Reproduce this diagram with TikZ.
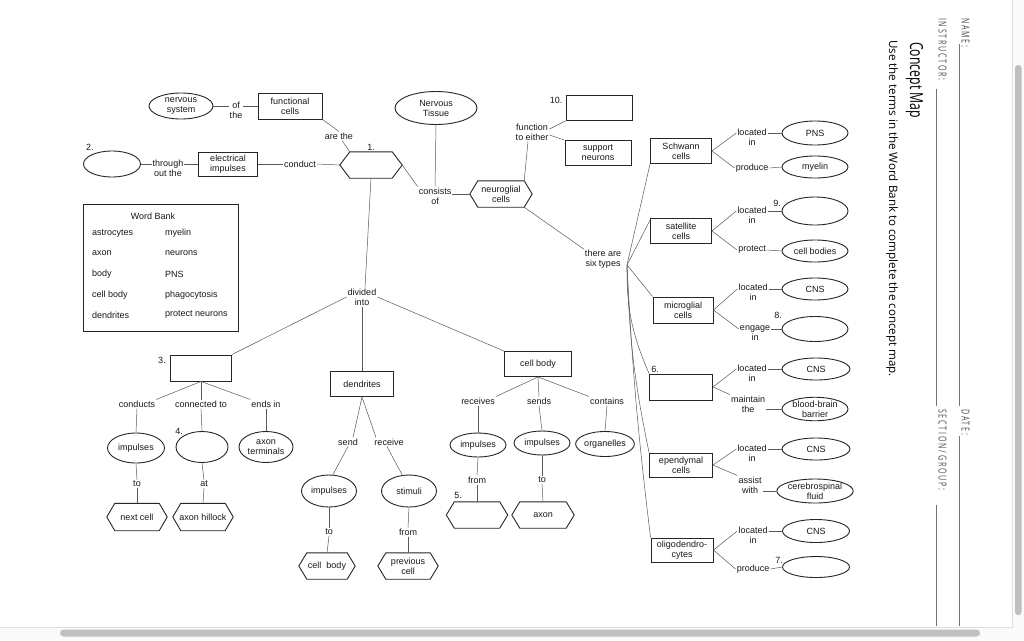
\documentclass[tikz,border=0pt]{standalone}
\usepackage{fontspec}
\setmainfont{Liberation Sans}
\newfontfamily\opensans{Open Sans}
\newfontfamily\condfont[FakeStretch=0.65,LetterSpace=16]{Open Sans}
\newfontfamily\titlefont[FakeStretch=0.68]{Open Sans}
\usetikzlibrary{shapes.geometric,calc}
\tikzset{
  every node/.style={font=\fontsize{9}{10}\selectfont, text=black!90},
  sz/.style 2 args={minimum width=#1pt, minimum height=#2pt},
  lbl/.style={inner sep=1pt, align=center},
  bx/.style={draw=black!85, line width=0.9pt, rectangle, inner sep=0pt, align=center},
  el/.style={draw=black!85, line width=0.9pt, ellipse, inner sep=0pt, align=center},
  hx/.style={rectangle, inner sep=0pt, align=center},
  cn/.style={draw=black!65, line width=0.5pt},
  hexline/.style={draw=black!85, line width=0.9pt, line join=miter},
  num/.style={inner sep=0pt},
  wbitem/.style={inner sep=0pt, anchor=west},
  formtxt/.style={rotate=-90, anchor=base west, inner sep=0pt, text=black!70, font=\condfont\fontsize{11}{11}\selectfont},
  formline/.style={draw=black!55, line width=0.8pt},
}
\newcommand\hexdraw[2]{\draw[hexline] (#1.west) -- ([xshift=#2pt]#1.north west) -- ([xshift=-#2pt]#1.north east) -- (#1.east) -- ([xshift=-#2pt]#1.south east) -- ([xshift=#2pt]#1.south west) -- cycle;}
\begin{document}
\begin{tikzpicture}[x=1pt,y=-1pt]
\fill[white] (0,0) rectangle (1024,640);
\useasboundingbox (0,0) rectangle (1024,640);

% ---------- top left ----------
\node[el, sz={64}{26}] (ns) at (181,106) {nervous\\system};
\node[lbl] (ofthe) at (236,110) {of\\the};
\node[bx, sz={64}{26}] (fc) at (290,106) {functional\\cells};
\draw[cn] (ns.east) -- (ns.east -| ofthe.west);
\draw[cn] (fc.west -| ofthe.east) -- (fc.west);
\node[lbl] (arethe) at (339,136) {are the};
\draw[cn] (fc.south east) -- (arethe.north);
\node[hx, sz={62}{26}] (h1) at (371,165) {};
\hexdraw{h1}{10}
\node[num] (n1) at (371,147) {1.};
\draw[cn] ([xshift=3pt]arethe.south) -- ([xshift=10pt]h1.north west);

\node[el, sz={57}{26}] (e2) at (112,164) {};
\node[num] (n2) at (90,147) {2.};
\node[lbl] (tot) at (168,168.5) {through\\out the};
\node[bx, sz={59}{24}] (ei) at (228,164) {electrical\\impulses};
\node[lbl] (cond0) at (300,164) {conduct};
\draw[cn] (e2.east) -- (e2.east -| tot.west);
\draw[cn] (ei.west -| tot.east) -- (ei.west);
\draw[cn] (ei.east) -- (cond0.west);
\draw[cn] (cond0.east) -- (h1.west);

% ---------- top middle ----------
\node[el, sz={82}{33}] (nt) at (436,108) {Nervous\\Tissue};
\node[lbl] (cons) at (435,196) {consists\\of};
\draw[cn] (nt.south) -- (cons.north);
\draw[cn] (h1.east) -- (cons.north west);
\node[hx, sz={62}{26}] (ng) at (501,194) {neuroglial\\cells};
\hexdraw{ng}{8}
\draw[cn] (cons.east |- ng.west) -- (ng.west);
\node[lbl] (fte) at (532,132) {function\\to either};
\draw[cn] ([xshift=-8pt]ng.north east) -- ([xshift=-4pt]fte.south);
\node[bx, sz={66}{25}] (b10) at (599,108) {};
\node[num] (n10) at (556,100) {10.};
\node[bx, sz={66}{25}] (sn) at (598,153) {support\\neurons};
\draw[cn] ([yshift=3pt]fte.east) -- (b10.south west);
\draw[cn] ([yshift=-3pt]fte.east) -- (sn.north west);
\node[lbl] (six) at (603,259.5) {there are\\six types};
\draw[cn] ([xshift=-8pt]ng.south east) -- (six.north west);
\coordinate (fan) at (627,265);

% ---------- right column ----------
\node[bx, sz={61}{25}] (sch) at (681,151) {Schwann\\cells};
\node[lbl] (li1) at (752,137) {located\\in};
\node[el, sz={66}{24}] (pns) at (815,133) {PNS};
\node[lbl] (pr1) at (752,168) {produce};
\node[el, sz={66}{22}] (mye) at (815,167) {myelin};
\draw[cn] (sch.east) -- (li1.west |- pns.west);
\draw[cn] (li1.east |- pns.west) -- (pns.west);
\draw[cn] (sch.east) -- (pr1.west);
\draw[cn] (pr1.east) -- (mye.west);

\node[bx, sz={61}{25}] (sat) at (681,231) {satellite\\cells};
\node[lbl] (li2) at (752,215) {located\\in};
\node[el, sz={66}{28}] (e9) at (815,211) {};
\node[num] (n9) at (777,203) {9.};
\node[lbl] (prt) at (752,250) {protect};
\node[el, sz={66}{22}] (cb) at (815,251) {cell bodies};
\draw[cn] (sat.east) -- (li2.west |- e9.west);
\draw[cn] (li2.east |- e9.west) -- (e9.west);
\draw[cn] (sat.east) -- (prt.west);
\draw[cn] (prt.east) -- (cb.west);

\node[bx, sz={60}{26}] (mic) at (683,310) {microglial\\cells};
\node[lbl] (li3) at (753,292) {located\\in};
\node[el, sz={66}{22}] (cns1) at (815,289) {CNS};
\node[lbl] (eng) at (755,333) {engage\\in};
\node[el, sz={66}{25}] (e8) at (815,329) {};
\node[num] (n8) at (778,315) {8.};
\draw[cn] (mic.east) -- (li3.west |- cns1.west);
\draw[cn] (li3.east |- cns1.west) -- (cns1.west);
\draw[cn] (mic.east) -- (eng.west |- e8.west);
\draw[cn] (eng.east |- e8.west) -- (e8.west);

\node[bx, sz={63}{26}] (b6) at (681,387) {};
\node[num] (n6) at (655,369) {6.};
\node[lbl] (li4) at (752,373) {located\\in};
\node[el, sz={68}{22}] (cns2) at (816,369) {CNS};
\node[lbl] (mt) at (748,404) {maintain\\the};
\node[el, sz={66}{23}] (bbb) at (815,409) {blood-brain\\barrier};
\draw[cn] (b6.east) -- (li4.west |- cns2.west);
\draw[cn] (li4.east |- cns2.west) -- (cns2.west);
\draw[cn] (b6.east) -- (mt.north west);
\draw[cn] (mt.east |- bbb.west) -- (bbb.west);

\node[bx, sz={63}{24}] (epe) at (681,465) {ependymal\\cells};
\node[lbl] (li5) at (752,453) {located\\in};
\node[el, sz={68}{22}] (cns3) at (816,449) {CNS};
\node[lbl] (aw) at (750,485) {assist\\with};
\node[el, sz={68}{24}] (csf) at (815,491) {cerebrospinal\\fluid};
\draw[cn] (epe.east) -- (li5.west |- cns3.west);
\draw[cn] (li5.east |- cns3.west) -- (cns3.west);
\draw[cn] (epe.east) -- (aw.north west);
\draw[cn] (aw.east |- csf.west) -- (csf.west);

\node[bx, sz={62}{24}] (oli) at (682,550) {oligodendro-\\cytes};
\node[lbl] (li6) at (753,535) {located\\in};
\node[el, sz={67}{23}] (cns4) at (816,531) {CNS};
\node[lbl] (pr2) at (753,569) {produce};
\node[el, sz={67}{21}] (e7) at (816,567) {};
\node[num] (n7) at (779,560) {7.};
\draw[cn] (oli.east) -- (li6.west |- cns4.west);
\draw[cn] (li6.east |- cns4.west) -- (cns4.west);
\draw[cn] (oli.east) -- (pr2.west);
\draw[cn] (pr2.east) -- (e7.west);

\draw[cn] (fan) -- (sch.south west);
\draw[cn] (fan) -- ([yshift=-2pt]sat.north west);
\draw[cn] (fan) -- (mic.north west);
\draw[cn] (fan) to[bend right=12] (b6.north west);
\draw[cn] (fan) to[bend right=5] (epe.north west);
\draw[cn] (fan) to[bend right=2] (oli.north west);

% ---------- word bank ----------
\node[draw=black!85, line width=0.9pt, minimum width=155pt, minimum height=127pt, inner sep=0pt] (wb) at (160.5,267.5) {};
\node[inner sep=0pt] (wbt) at (153,216) {Word Bank};
\node[wbitem] (w1) at (92,233.5) {astrocytes};
\node[wbitem] (w2) at (92,253.5) {axon};
\node[wbitem] (w3) at (92,274) {body};
\node[wbitem] (w4) at (92,295) {cell body};
\node[wbitem] (w5) at (92,315) {dendrites};
\node[wbitem] (w6) at (165,233.5) {myelin};
\node[wbitem] (w7) at (165,253.5) {neurons};
\node[wbitem] (w8) at (165,274) {PNS};
\node[wbitem] (w9) at (165,295) {phagocytosis};
\node[wbitem] (w10) at (165,315) {protect neurons};

% ---------- lower tree ----------
\node[lbl] (di) at (362,297) {divided\\into};
\draw[cn] (h1.south) -- ([xshift=3pt]di.north);
\node[bx, sz={61}{26}] (b3) at (201,368) {};
\node[num] (n3) at (162,360) {3.};
\node[bx, sz={63}{25}] (den) at (362,384) {dendrites};
\node[bx, sz={67}{25}] (cbb) at (538,364) {cell body};
\draw[cn] (di.west) -- (b3.north east);
\draw[cn] (di.south) -- (den.north);
\draw[cn] (di.east) -- (cbb.north west);

\node[lbl] (cds) at (137,404) {conducts};
\node[lbl] (ct) at (201,404) {connected to};
\node[lbl] (ei2) at (266,404) {ends in};
\draw[cn] (b3.south) -- (cds.north east);
\draw[cn] (b3.south) -- (ct.north);
\draw[cn] (b3.south) -- (ei2.north west);
\node[el, sz={57}{30}] (imp1) at (136,448) {impulses};
\node[el, sz={52}{31}] (e4) at (202,447) {};
\node[num] (n4) at (179,431) {4.};
\node[el, sz={54}{31}] (axt) at (266,447) {axon\\terminals};
\draw[cn] (cds.south) -- (imp1.north);
\draw[cn] (ct.south) -- (e4.north);
\draw[cn] (ei2.south) -- (axt.north);
\node[lbl] (to1) at (137,484) {to};
\node[lbl] (at1) at (204,484) {at};
\node[hx, sz={60}{27}] (nc) at (137,517) {next cell};
\hexdraw{nc}{8}
\node[hx, sz={60}{27}] (ah) at (203,517) {axon hillock};
\hexdraw{ah}{8}
\draw[cn] (imp1.south) -- (to1.north);
\draw[cn] (to1.south) -- (nc.north);
\draw[cn] (e4.south) -- (at1.north);
\draw[cn] (at1.south) -- (ah.north);

\node[lbl] (snd) at (348,442) {send};
\node[lbl] (rcv) at (389,442) {receive};
\draw[cn] (den.south) -- ([xshift=5pt]snd.north);
\draw[cn] (den.south) -- ([xshift=-13pt]rcv.north);
\node[el, sz={55}{32}] (imp2) at (329,491) {impulses};
\node[el, sz={55}{32}] (stim) at (409,491) {stimuli};
\draw[cn] (snd.south) -- ([xshift=4pt]imp2.north);
\draw[cn] ([xshift=-2pt]rcv.south) -- ([xshift=-7pt]stim.north);
\node[lbl] (to2) at (329,532) {to};
\node[lbl] (fr1) at (408,532) {from};
\node[hx, sz={56}{26}] (cbh) at (327,566) {cell\ \ body};
\hexdraw{cbh}{8}
\node[hx, sz={60}{26}] (pc) at (408,566) {previous\\cell};
\hexdraw{pc}{8}
\draw[cn] (imp2.south) -- (to2.north);
\draw[cn] (to2.south) -- (cbh.north);
\draw[cn] (stim.south) -- (fr1.north);
\draw[cn] (fr1.south) -- (pc.north);

\node[lbl] (rec) at (478,401) {receives};
\node[lbl] (sds) at (539,401) {sends};
\node[lbl] (con) at (607,401) {contains};
\draw[cn] (cbb.south) -- (rec.north east);
\draw[cn] (cbb.south) -- (sds.north);
\draw[cn] (cbb.south) -- (con.north west);
\node[el, sz={56}{24}] (imp3) at (478,445) {impulses};
\node[el, sz={56}{24}] (imp4) at (542,443) {impulses};
\node[el, sz={52}{25}] (org) at (605,444) {organelles};
\draw[cn] (rec.south) -- (imp3.north);
\draw[cn] (sds.south) -- (imp4.north);
\draw[cn] (con.south) -- (org.north);
\node[lbl] (fr2) at (477,480) {from};
\node[lbl] (to3) at (542,480) {to};
\node[hx, sz={61}{26}] (h5) at (477,515) {};
\hexdraw{h5}{8}
\node[num] (n5) at (458,495) {5.};
\node[hx, sz={62}{26}] (ax) at (543,515) {axon};
\hexdraw{ax}{8}
\draw[cn] (imp3.south) -- (fr2.north);
\draw[cn] (fr2.south) -- (h5.north);
\draw[cn] (imp4.south) -- (to3.north);
\draw[cn] (to3.south) -- (ax.north);

% ---------- right panel ----------
\node[formtxt] (nm) at (961.5,18) {NAME:};
\node[formtxt] (dt) at (961.5,409) {DATE:};
\node[formtxt] (ins) at (938.5,18) {INSTRUCTOR:};
\node[formtxt] (sec) at (938.5,409) {SECTION/GROUP:};
\draw[formline] (959.5,44) -- (959.5,406);
\draw[formline] (959.5,436) -- (959.5,626);
\draw[formline] (936.5,89) -- (936.5,406);
\draw[formline] (936.5,505) -- (936.5,626);
\node[rotate=-90, anchor=base west, inner sep=0pt, text=black, font=\titlefont\fontsize{18}{18}\selectfont] (title) at (910,42) {Concept Map};
\node[rotate=-90, anchor=base west, inner sep=0pt, text=black, font=\opensans\fontsize{11.6}{12}\selectfont] (instr) at (889,40) {Use the terms in the Word Bank to complete the concept map.};

% ---------- scroll bars ----------
\fill[black!2] (1012.5,0) rectangle (1024,640);
\fill[black!2] (0,627.5) rectangle (1024,640);
\draw[black!12, line width=0.6pt] (1012.5,0) -- (1012.5,627.5) -- (0,627.5);
\fill[black!25, rounded corners=3.5pt] (60,629.5) rectangle (980,636.5);
\fill[black!25, rounded corners=3pt] (1015,65) rectangle (1021.5,615);
\end{tikzpicture}
\end{document}
